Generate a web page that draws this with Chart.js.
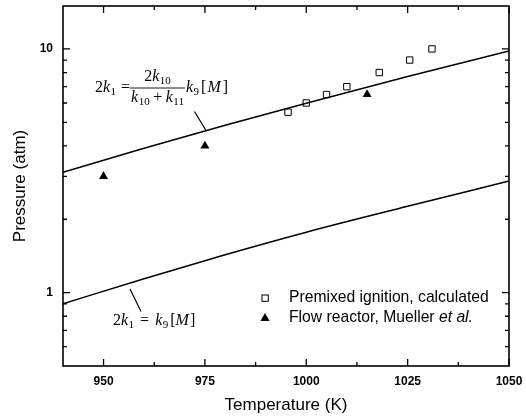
<!DOCTYPE html>
<html>
<head>
<meta charset="utf-8">
<script src="https://cdn.jsdelivr.net/npm/chart.js@4/dist/chart.umd.min.js"></script>
<style>
  html, body { margin: 0; padding: 0; background: #fff; }
  #wrap { width: 526px; height: 418px; position: relative; }
</style>
</head>
<body>
<div id="wrap"><canvas id="chart"></canvas></div>
<script>
const lineTemps = [940, 960, 980, 1000, 1025, 1050];
// 2k1 = 2k10/(k10+k11) k9[M]
const upperLine = [3.12, 3.91, 4.86, 5.99, 7.71, 9.8];
// 2k1 = k9[M]
const lowerLine = [0.90, 1.14, 1.43, 1.77, 2.26, 2.87];

// premixed ignition, calculated
const premixTemps = [995.5, 1000, 1005, 1010, 1018, 1025.5, 1031];
const premixPress = [5.5, 6.0, 6.5, 7.0, 8.0, 9.0, 10.0];

// flow reactor, Mueller et al.
const flowTemps = [950, 975, 1015];
const flowPress = [3.0, 4.0, 6.5];

const xTicks = [950, 975, 1000, 1025, 1050];
const xMinor = [962.5, 987.5, 1012.5, 1037.5];
const yTicks = [1, 10];
const yMinor = [0.6, 0.7, 0.8, 0.9, 2, 3, 4, 5, 6, 7, 8, 9];

const SANS = 'Arial, "Liberation Sans", sans-serif';
const SERIF = '"Times New Roman", "Liberation Serif", serif';

const pts = (xs, ys) => xs.map((x, i) => ({ x: x, y: ys[i] }));

// draw a row of text pieces, each with own font / offset
function runsWidth(ctx, runs) {
  let w = 0;
  runs.forEach(r => {
    ctx.font = r.f;
    w += (r.g || 0) + ctx.measureText(r.t).width;
  });
  return w;
}
function drawRuns(ctx, x, y, runs) {
  runs.forEach(r => {
    ctx.font = r.f;
    x += r.g || 0;
    ctx.fillText(r.t, x, y + (r.dy || 0));
    x += ctx.measureText(r.t).width;
  });
  return x;
}

const N = '16px ' + SERIF;
const I = 'italic 16px ' + SERIF;
const S = '11px ' + SERIF;

function noPad(s) {
  s.paddingTop = 0;
  s.paddingBottom = 0;
  s.paddingLeft = 0;
  s.paddingRight = 0;
}

const decor = {
  id: 'decor',
  afterDraw(chart) {
    const ctx = chart.ctx;
    const a = chart.chartArea;
    const xs = chart.scales.x, ys = chart.scales.y;
    ctx.save();
    ctx.strokeStyle = '#000';
    ctx.fillStyle = '#000';

    // frame
    ctx.lineWidth = 1.6;
    ctx.strokeRect(a.left, a.top, a.right - a.left, a.bottom - a.top);

    // inward ticks on all four sides
    ctx.lineWidth = 1.3;
    ctx.beginPath();
    const xt = (v, len) => {
      const p = xs.getPixelForValue(v);
      ctx.moveTo(p, a.bottom); ctx.lineTo(p, a.bottom - len);
      ctx.moveTo(p, a.top); ctx.lineTo(p, a.top + len);
    };
    const yt = (v, len) => {
      const p = ys.getPixelForValue(v);
      ctx.moveTo(a.left, p); ctx.lineTo(a.left + len, p);
      ctx.moveTo(a.right, p); ctx.lineTo(a.right - len, p);
    };
    xTicks.forEach(v => xt(v, 7));
    xMinor.forEach(v => xt(v, 4));
    yTicks.forEach(v => yt(v, 7));
    yMinor.forEach(v => yt(v, 4));
    ctx.stroke();

    // leader lines
    ctx.lineWidth = 1.2;
    ctx.beginPath();
    ctx.moveTo(a.left + 131.5, a.top + 105.5);
    ctx.lineTo(a.left + 143, a.top + 124.5);
    ctx.moveTo(a.left + 67, a.top + 283);
    ctx.lineTo(a.left + 78, a.top + 305.5);
    ctx.stroke();

    // upper equation
    ctx.textBaseline = 'alphabetic';
    ctx.textAlign = 'left';
    const bx = a.left + 32, by = a.top + 86;
    drawRuns(ctx, bx, by, [
      { t: '2', f: N }, { t: 'k', f: I }, { t: '1', f: S, dy: 3, g: 0.5 },
      { t: '=', f: N, g: 5 }
    ]);
    const barL = a.left + 67, barR = a.left + 122;
    ctx.lineWidth = 0.9;
    ctx.beginPath();
    ctx.moveTo(barL, by - 4); ctx.lineTo(barR, by - 4);
    ctx.stroke();
    const num = [{ t: '2', f: N }, { t: 'k', f: I }, { t: '10', f: S, dy: 3, g: 0.5 }];
    drawRuns(ctx, (barL + barR) / 2 - runsWidth(ctx, num) / 2, by - 11, num);
    const den = [
      { t: 'k', f: I }, { t: '10', f: S, dy: 3, g: 0.5 },
      { t: '+', f: N, g: 3.5 },
      { t: 'k', f: I, g: 3.5 }, { t: '11', f: S, dy: 3, g: 0.5 }
    ];
    drawRuns(ctx, (barL + barR) / 2 - runsWidth(ctx, den) / 2, by + 10, den);
    drawRuns(ctx, barR + 1, by, [
      { t: 'k', f: I }, { t: '9', f: S, dy: 3, g: 0.5 },
      { t: '[', f: N, g: 2 }, { t: 'M', f: I, g: 1 }, { t: ']', f: N, g: 2 }
    ]);

    // lower equation
    drawRuns(ctx, a.left + 50, a.top + 319, [
      { t: '2', f: N }, { t: 'k', f: I }, { t: '1', f: S, dy: 3, g: 0.5 },
      { t: '=', f: N, g: 6 },
      { t: 'k', f: I, g: 6 }, { t: '9', f: S, dy: 3, g: 0.5 },
      { t: '[', f: N, g: 2 }, { t: 'M', f: I }, { t: ']', f: N, g: 1 }
    ]);

    // legend
    const lx = a.left + 202, ly1 = a.top + 292, ly2 = a.top + 312;
    ctx.lineWidth = 1;
    ctx.strokeRect(lx - 3, ly1 - 3, 6.3, 6.3);
    ctx.beginPath();
    ctx.moveTo(lx, ly2 - 5);
    ctx.lineTo(lx + 4.6, ly2 + 3);
    ctx.lineTo(lx - 4.6, ly2 + 3);
    ctx.closePath();
    ctx.fill();
    ctx.textBaseline = 'middle';
    const L = '15.7px ' + SANS, LI = 'italic 15.7px ' + SANS;
    drawRuns(ctx, a.left + 226, ly1, [{ t: 'Premixed ignition, calculated', f: L }]);
    drawRuns(ctx, a.left + 226, ly2, [
      { t: 'Flow reactor, Mueller ', f: L }, { t: 'et al.', f: LI }
    ]);
    ctx.restore();
  }
};

new Chart(document.getElementById('chart'), {
  type: 'scatter',
  data: {
    datasets: [
      {
        data: pts(lineTemps, upperLine),
        showLine: true,
        borderColor: '#000',
        borderWidth: 1.5,
        pointRadius: 0,
        cubicInterpolationMode: 'monotone',
      },
      {
        data: pts(lineTemps, lowerLine),
        showLine: true,
        borderColor: '#000',
        borderWidth: 1.5,
        pointRadius: 0,
        cubicInterpolationMode: 'monotone',
      },
      {
        data: pts(premixTemps, premixPress),
        pointStyle: 'rect',
        pointRadius: 4.5,
        borderColor: '#000',
        borderWidth: 1,
        backgroundColor: 'rgba(0,0,0,0)',
      },
      {
        data: pts(flowTemps, flowPress),
        pointStyle: 'triangle',
        pointRadius: 5.2,
        borderColor: '#000',
        borderWidth: 0,
        backgroundColor: '#000',
      },
    ],
  },
  options: {
    responsive: true,
    maintainAspectRatio: false,
    animation: false,
    layout: { padding: { left: 0, right: 17, top: 6, bottom: 0 } },
    plugins: {
      legend: { display: false },
      tooltip: { enabled: false },
    },
    scales: {
      x: {
        type: 'linear',
        min: 940,
        max: 1050,
        afterBuildTicks: s => { s.ticks = xTicks.map(v => ({ value: v })); },
        afterFit: s => { s.height = 52; noPad(s); },
        grid: { display: false, drawTicks: false },
        border: { display: false },
        ticks: {
          color: '#000',
          padding: 8,
          maxRotation: 0,
          font: { family: SANS, size: 12, weight: 'bold' },
          callback: v => String(v),
        },
        title: {
          display: true,
          text: 'Temperature (K)',
          color: '#000',
          font: { family: SANS, size: 17 },
          padding: { top: 0, bottom: 2 },
        },
      },
      y: {
        type: 'logarithmic',
        min: 0.5,
        max: 15,
        afterBuildTicks: s => { s.ticks = yTicks.map(v => ({ value: v })); },
        afterFit: s => { s.width = 63; noPad(s); },
        grid: { display: false, drawTicks: false },
        border: { display: false },
        ticks: {
          color: '#000',
          padding: 10,
          font: { family: SANS, size: 12, weight: 'bold' },
          callback: v => String(v),
        },
        title: {
          display: true,
          text: 'Pressure (atm)',
          color: '#000',
          font: { family: SANS, size: 17 },
          padding: { top: 10, bottom: 0 },
        },
      },
    },
  },
  plugins: [decor],
});
</script>
</body>
</html>
